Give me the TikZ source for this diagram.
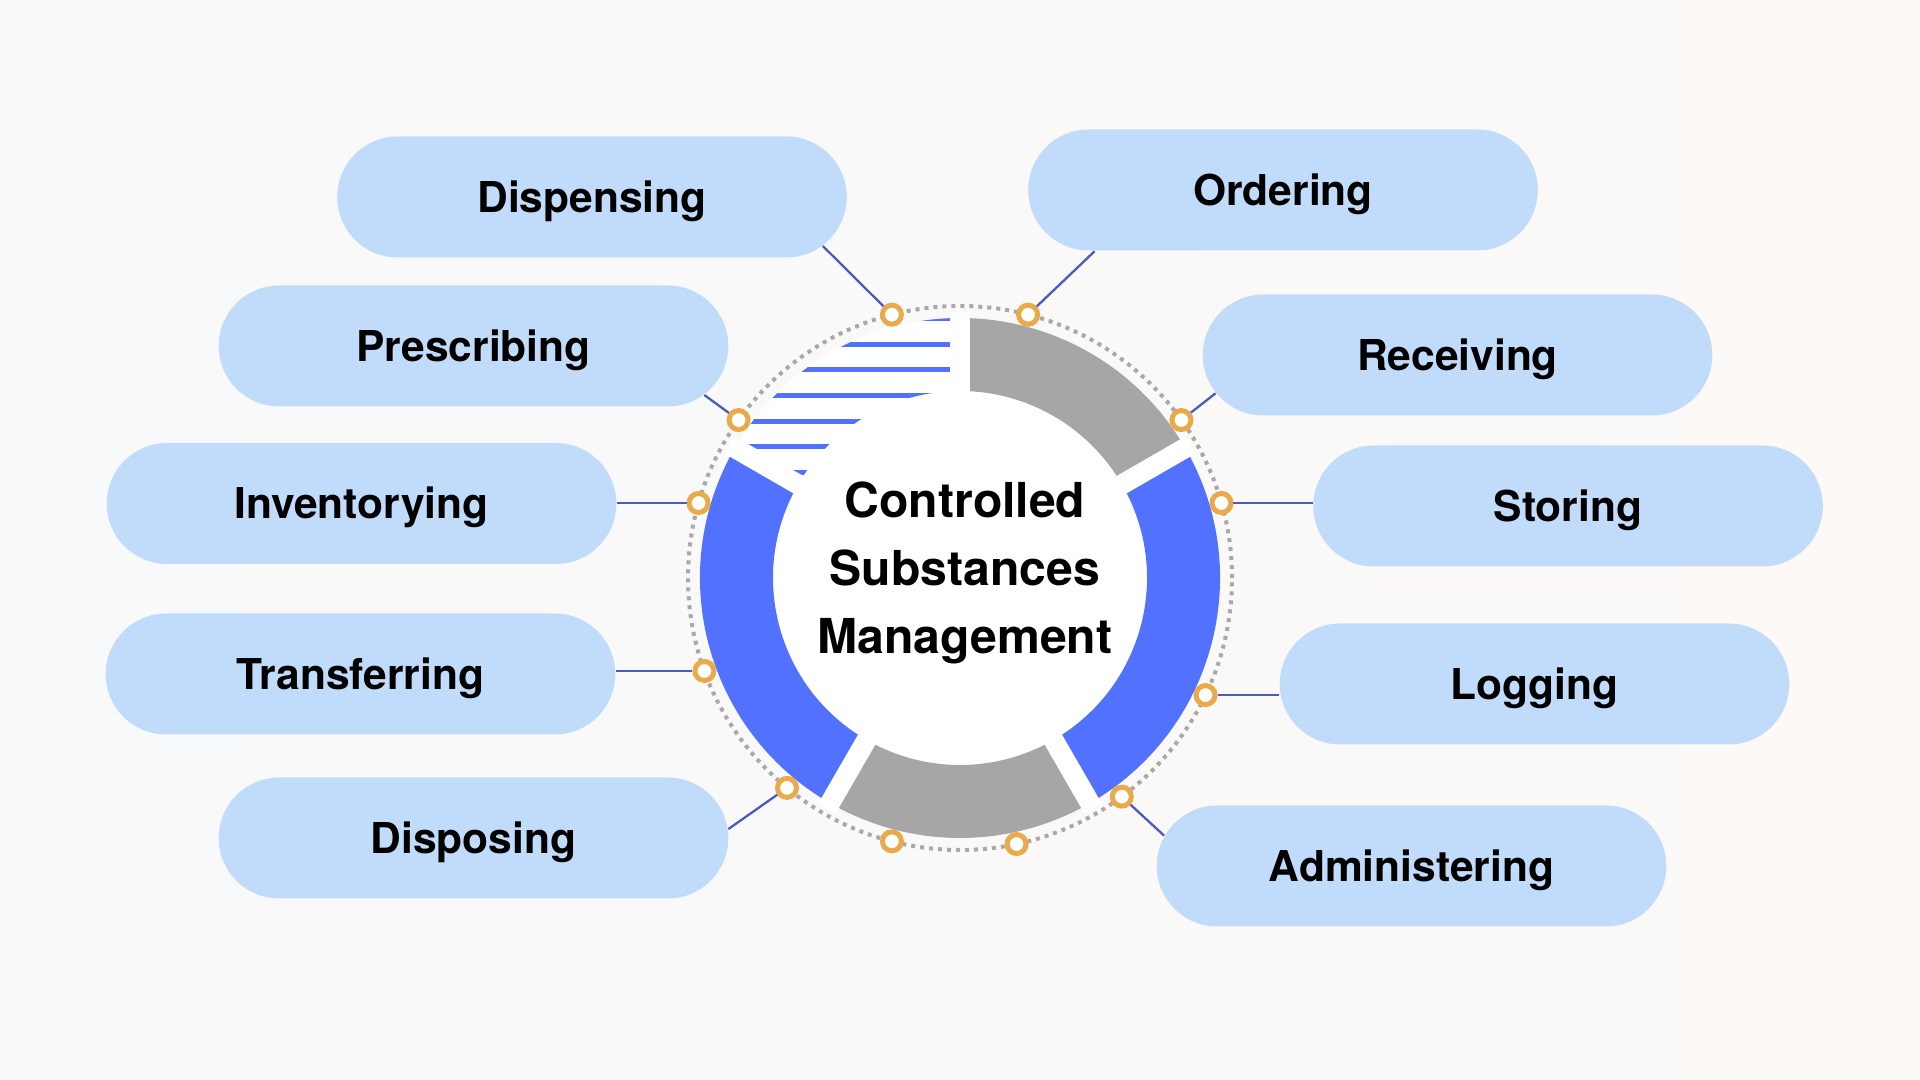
\documentclass[tikz,border=0pt]{standalone}
\usepackage{fontspec}
\setmainfont{TeX Gyre Heros}
\usepackage{tikz}
\usetikzlibrary{shapes.misc}

\definecolor{ringblue}{HTML}{5271FF}
\definecolor{ringgray}{HTML}{A6A6A6}
\definecolor{pillblue}{HTML}{C1DBFA}
\definecolor{linkblue}{HTML}{4A5BBF}
\definecolor{dotorange}{HTML}{EBAA4A}
\definecolor{dotgray}{HTML}{A9A9A9}
\definecolor{bgleft}{HTML}{F8F9FA}
\definecolor{bgright}{HTML}{FCF9F7}

\begin{document}
\begin{tikzpicture}[
    pill/.style={rounded rectangle, fill=pillblue, minimum width=5.33cm, minimum height=1.21cm,
      font=\fontsize{12.1}{14}\selectfont\bfseries, text height=8.7pt, text depth=0pt},
    dot/.style={circle, draw=dotorange, fill=white, line width=0.05cm, minimum size=0.19cm, inner sep=0pt},
    link/.style={linkblue, line width=0.65pt}]
    \useasboundingbox (0,0) rectangle (19.2,10.8);
    \shade[left color=bgleft, right color=bgright] (0,0) rectangle (19.2,10.8);

    \begin{scope}[shift={(9.60,5.02)}]
      \fill[white] (0,0) circle (2.6);
      \foreach \a/\b/\c in {30/90/ringgray, -60/30/ringblue, -120/-60/ringgray, 150/240/ringblue}
        \fill[\c] (\a:2.6) arc[start angle=\a, end angle=\b, radius=2.6] -- (\b:1.87)
          arc[start angle=\b, end angle=\a, radius=1.87] -- cycle;
      \begin{scope}
        \clip (90:2.6) arc[start angle=90, end angle=150, radius=2.6] -- (150:1.87)
          arc[start angle=150, end angle=90, radius=1.87] -- cycle;
        \foreach \y in {2.59,2.335,2.08,1.82,1.565,1.31,1.05}
          \draw[ringblue, line width=0.05cm] (-2.7,\y) -- (0,\y);
      \end{scope}
      \foreach \a in {90,30,-60,-120,150}
        \draw[white, line width=0.2cm] (\a:1.7) -- (\a:2.66);
      \draw[dotgray, line width=0.04cm, dash pattern=on 0.04cm off 0.05cm] (0,0) circle (2.72);

      \node[align=center, font=\fontsize{13.7}{19.35}\selectfont\bfseries] (core) at (0.05,0.055)
        {Controlled\\Substances\\Management};

      \node[dot] (ddisp) at (104.5:2.72) {};
      \node[dot] (dord) at (75.5:2.72) {};
      \node[dot] (drec) at (35.5:2.72) {};
      \node[dot] (dsto) at (16:2.72) {};
      \node[dot] (dlog) at (-25.5:2.72) {};
      \node[dot] (dadm) at (-53.5:2.72) {};
      \node[dot] (dlow2) at (-78:2.72) {};
      \node[dot] (dlow1) at (-104.5:2.72) {};
      \node[dot] (ddis) at (-129.5:2.72) {};
      \node[dot] (dtra) at (-160:2.72) {};
      \node[dot] (dinv) at (164:2.72) {};
      \node[dot] (dpres) at (144.5:2.72) {};
    \end{scope}

    \node[pill] (disp) at (5.92,8.83) {Dispensing};
    \node[pill] (ord) at (12.83,8.90) {Ordering};
    \node[pill] (pres) at (4.735,7.34) {Prescribing};
    \node[pill] (rec) at (14.575,7.25) {Receiving};
    \node[pill] (inv) at (3.615,5.765) {Inventorying};
    \node[pill] (sto) at (15.68,5.74) {Storing};
    \node[pill] (tra) at (3.605,4.06) {Transferring};
    \node[pill] (log) at (15.345,3.96) {Logging};
    \node[pill] (dis) at (4.735,2.42) {Disposing};
    \node[pill] (adm) at (14.115,2.14) {Administering};

    \draw[link] (ddisp) -- (disp.-12);
    \draw[link] (dord) -- (ord.198);
    \draw[link] (dpres) -- (pres.-12);
    \draw[link] (drec) -- (rec.189);
    \draw[link] (dinv) -- (dinv -| inv.east);
    \draw[link] (dsto) -- (dsto -| sto.west);
    \draw[link] (dtra) -- (dtra -| tra.east);
    \draw[link] (dlog) -- (dlog -| log.west);
    \draw[link] (ddis) -- (dis.2);
    \draw[link] (dadm) -- (adm.173);
\end{tikzpicture}
\end{document}
